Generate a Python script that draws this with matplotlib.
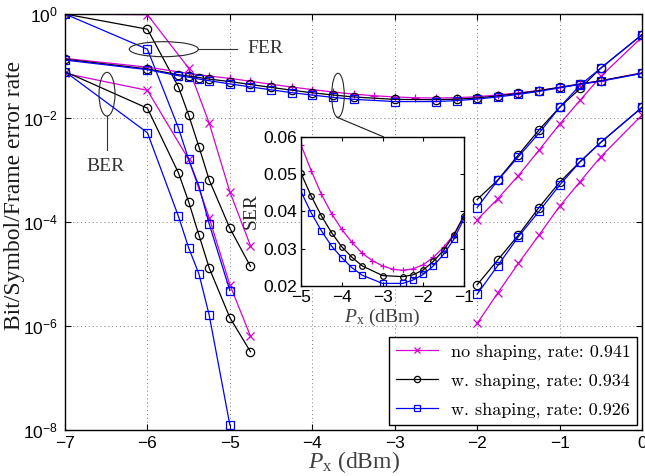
import matplotlib
matplotlib.use('Agg')
import matplotlib.pyplot as plt
from matplotlib.patches import Ellipse
from matplotlib.lines import Line2D
from matplotlib.ticker import FixedLocator, NullLocator, LogFormatterSciNotation, FixedFormatter

plt.rcParams['font.family'] = ['Liberation Sans', 'DejaVu Sans']
plt.rcParams['mathtext.fontset'] = 'custom'
plt.rcParams['mathtext.rm'] = 'Liberation Serif'
plt.rcParams['mathtext.it'] = 'Liberation Serif:italic'
plt.rcParams['mathtext.bf'] = 'Liberation Serif:bold'

# ---------------- data ----------------
# left block (low power), magenta = no shaping
x_m_left = [-7, -6, -5.5, -5.25, -5, -4.75]
fer_m_left = [1.0, 0.97, 0.091, 7.9e-3, 3.8e-4, 3.5e-5]
ber_m_left = [0.072, 0.034, 1.6e-3, 1.2e-4, 6.2e-6, 6.4e-7]

x_k_left = [-7, -6, -5.625, -5.5, -5.375, -5.25, -5, -4.75]
fer_k_left = [1.0, 0.51, 0.04, 0.0114, 2.8e-3, 6.4e-4, 7.6e-5, 1.4e-5]
ber_k_left = [0.078, 0.0154, 8.9e-4, 2.45e-4, 5.6e-5, 1.3e-5, 1.45e-6, 3.2e-7]

x_b_left = [-7, -6, -5.625, -5.5, -5.375, -5.25, -5]
fer_b_left = [1.0, 0.21, 6.5e-3, 1.6e-3, 4.9e-4, 9.1e-5, 4.8e-6]
ber_b_left = [0.078, 5.2e-3, 1.3e-4, 3.2e-5, 1.0e-5, 1.6e-6, 1.25e-8]

# right block (high power)
x_right = [-2, -1.75, -1.5, -1.25, -1.0, -0.75, -0.5, 0]
fer_m_right = [1.1e-4, 2.8e-4, 7.8e-4, 2.4e-3, 7.6e-3, 0.022, 0.063, 0.36]
fer_k_right = [2.7e-4, 6.4e-4, 1.95e-3, 5.9e-3, 0.016, 0.037, 0.091, 0.40]
fer_b_right = [1.9e-4, 6.3e-4, 1.8e-3, 5.1e-3, 0.016, 0.043, 0.091, 0.40]
ber_m_right = [1.12e-6, 4.3e-6, 1.6e-5, 5.6e-5, 2.0e-4, 6.0e-4, 1.8e-3, 0.0114]
ber_k_right = [6.2e-6, 1.86e-5, 5.6e-5, 1.9e-4, 5.8e-4, 1.45e-3, 3.4e-3, 0.016]
ber_b_right = [4.1e-6, 1.45e-5, 5.2e-5, 1.6e-4, 5.1e-4, 1.45e-3, 3.4e-3, 0.016]

# symbol error rate
x_ser_m = [-7, -6, -5.5, -5.25, -5, -4.75, -4.5, -4.25, -4, -3.75, -3.5, -3.25,
           -3, -2.75, -2.5, -2.25, -2, -1.75, -1.5, -1.25, -1, -0.75, -0.5, 0]
ser_m = [0.14, 0.095, 0.072, 0.064, 0.0578, 0.0509, 0.0446, 0.0394, 0.0352, 0.0317,
         0.0288, 0.0268, 0.0254, 0.0245, 0.0242, 0.0246, 0.0257, 0.0277, 0.0304,
         0.0338, 0.0388, 0.045, 0.052, 0.074]
x_ser_kb = [-7, -6, -5.625, -5.5, -5.375, -5.25, -5, -4.75, -4.5, -4.25, -4, -3.75,
            -3.5, -3, -2.5, -2.25, -2, -1.75, -1.5, -1.25, -1, -0.75, -0.5, 0]
ser_k = [0.135, 0.088, 0.068, 0.064, 0.060, 0.056, 0.0502, 0.0441, 0.0388, 0.0343,
         0.0305, 0.0277, 0.0254, 0.0228, 0.0225, 0.0230, 0.0243, 0.0266, 0.0296,
         0.0336, 0.0388, 0.045, 0.052, 0.073]
ser_b = [0.13, 0.085, 0.065, 0.061, 0.056, 0.052, 0.0453, 0.0396, 0.0348, 0.0307,
         0.0276, 0.0249, 0.0229, 0.0207, 0.0207, 0.0216, 0.0231, 0.0254, 0.0285,
         0.0325, 0.0380, 0.0445, 0.051, 0.072]

labels = ['no shaping, rate: 0.941', 'w. shaping, rate: 0.934', 'w. shaping, rate: 0.926']
x_ticks = [-7, -6, -5, -4, -3, -2, -1, 0]
y_ticks = [1e-8, 1e-6, 1e-4, 1e-2, 1]
inset_xticks = [-5, -4, -3, -2, -1]
inset_yticks = [0.02, 0.03, 0.04, 0.05, 0.06]

# ---------------- styles ----------------
MAG = '#d400d4'
BLK = '#000000'
BLU = '#0000ff'
lw = 0.9
ms = 6
mew = 0.9
serif = 'Liberation Serif'

fig = plt.figure(figsize=(6.45, 4.76), dpi=100)
ax = fig.add_axes([65/645, 1-430/476, 577/645, 416/476])

def curve(a, x, y, color, marker, size=ms, **kw):
    return a.plot(x, y, color=color, marker=marker, markersize=size, markeredgewidth=mew,
                  markerfacecolor='none', linewidth=lw, **kw)

# FER & BER
for x, y in [(x_m_left, fer_m_left), (x_m_left, ber_m_left), (x_right, fer_m_right), (x_right, ber_m_right)]:
    curve(ax, x, y, MAG, 'x')
for x, y in [(x_k_left, fer_k_left), (x_k_left, ber_k_left), (x_right, fer_k_right), (x_right, ber_k_right)]:
    curve(ax, x, y, BLK, 'o')
for x, y in [(x_b_left, fer_b_left), (x_b_left, ber_b_left), (x_right, fer_b_right), (x_right, ber_b_right)]:
    curve(ax, x, y, BLU, 's')
# SER
curve(ax, x_ser_m, ser_m, MAG, '+')
curve(ax, x_ser_kb, ser_k, BLK, 'o')
curve(ax, x_ser_kb, ser_b, BLU, 's')

ax.set_yscale('log')
ax.set_xlim(-7, 0)
ax.set_ylim(1e-8, 1)
ax.xaxis.set_major_locator(FixedLocator(x_ticks))
ax.yaxis.set_major_locator(FixedLocator(y_ticks))
ax.yaxis.set_major_formatter(LogFormatterSciNotation())
ax.yaxis.set_minor_locator(NullLocator())
ax.xaxis.set_minor_locator(NullLocator())
ax.tick_params(direction='in', top=True, right=True, length=4, width=0.8, labelsize=12.5)
ax.tick_params(axis='x', pad=4)
ax.tick_params(axis='y', pad=5)
ax.grid(True, which='major', linestyle=(0, (1, 3)), color='0.5', linewidth=0.7)
ax.set_axisbelow(True)
for s in ax.spines.values():
    s.set_linewidth(1.0)

ax.set_ylabel('Bit/Symbol/Frame error rate', fontfamily=serif, fontsize=17, color='0.1')
ax.yaxis.set_label_coords(-0.069, 0.565)
ax.set_xlabel(r'$P_{\mathrm{x}}$ (dBm)', fontfamily=serif, fontsize=17, color='0.25')
ax.xaxis.set_label_coords(0.5, -0.047)

# annotations (ellipses, leaders, text)
ann = dict(transform=ax.transAxes, fill=False, edgecolor='0.15', linewidth=0.8, zorder=5)
ax.add_patch(Ellipse((0.1712, 0.9154), 0.1196, 0.0361, **ann))
ax.plot([0.2310, 0.2975], [0.9154, 0.9154], transform=ax.transAxes, color='0.2', lw=0.8)
ax.text(0.3466, 0.9159, 'FER', transform=ax.transAxes, ha='center', va='center',
        fontfamily=serif, fontsize=14, color='0.2')
ax.add_patch(Ellipse((0.0728, 0.8072), 0.0277, 0.1050, **ann))
ax.plot([0.0728, 0.0728], [0.7548, 0.6731], transform=ax.transAxes, color='0.2', lw=0.8)
ax.text(0.0702, 0.6329, 'BER', transform=ax.transAxes, ha='center', va='center',
        fontfamily=serif, fontsize=14, color='0.2')
ax.add_patch(Ellipse((0.4731, 0.8046), 0.0218, 0.1058, **ann))
ax.plot([0.4714, 0.5516], [0.7517, 0.7050], transform=ax.transAxes, color='0.1', lw=0.8)

# legend
handles = [Line2D([], [], color=MAG, marker='x', markersize=4.5, markeredgewidth=mew, lw=lw),
           Line2D([], [], color=BLK, marker='o', markersize=4.5, markerfacecolor='none', markeredgewidth=mew, lw=lw),
           Line2D([], [], color=BLU, marker='s', markersize=4.5, markerfacecolor='none', markeredgewidth=mew, lw=lw)]
leg = ax.legend(handles, labels, loc='lower right', prop={'family': 'cmr10', 'size': 13},
                fancybox=False, edgecolor='k', framealpha=1, borderaxespad=0.25,
                handlelength=2.3, labelspacing=0.72, borderpad=0.4, handletextpad=0.7,
                numpoints=1)
leg.get_frame().set_linewidth(1.0)

# inset
axi = fig.add_axes([301/645, 1-286/476, 163/645, 149.3/476])
curve(axi, x_ser_m, ser_m, MAG, '+', size=4.5)
curve(axi, x_ser_kb, ser_k, BLK, 'o', size=4)
curve(axi, x_ser_kb, ser_b, BLU, 's', size=3.8)
axi.set_xlim(-5, -1)
axi.set_ylim(0.02, 0.06)
axi.xaxis.set_major_locator(FixedLocator(inset_xticks))
axi.yaxis.set_major_locator(FixedLocator(inset_yticks))
axi.yaxis.set_major_formatter(FixedFormatter(['%.2f' % v for v in inset_yticks]))
axi.tick_params(direction='in', top=True, right=True, length=3, width=0.8, labelsize=12.5, pad=3)
for s in axi.spines.values():
    s.set_linewidth(1.0)
axi.set_ylabel('SER', fontfamily=serif, fontsize=14, color='0.15', labelpad=2)
axi.set_xlabel(r'$P_{\mathrm{x}}$ (dBm)', fontfamily=serif, fontsize=14, color='0.25', labelpad=1)

fig.savefig('out.png', dpi=100)
